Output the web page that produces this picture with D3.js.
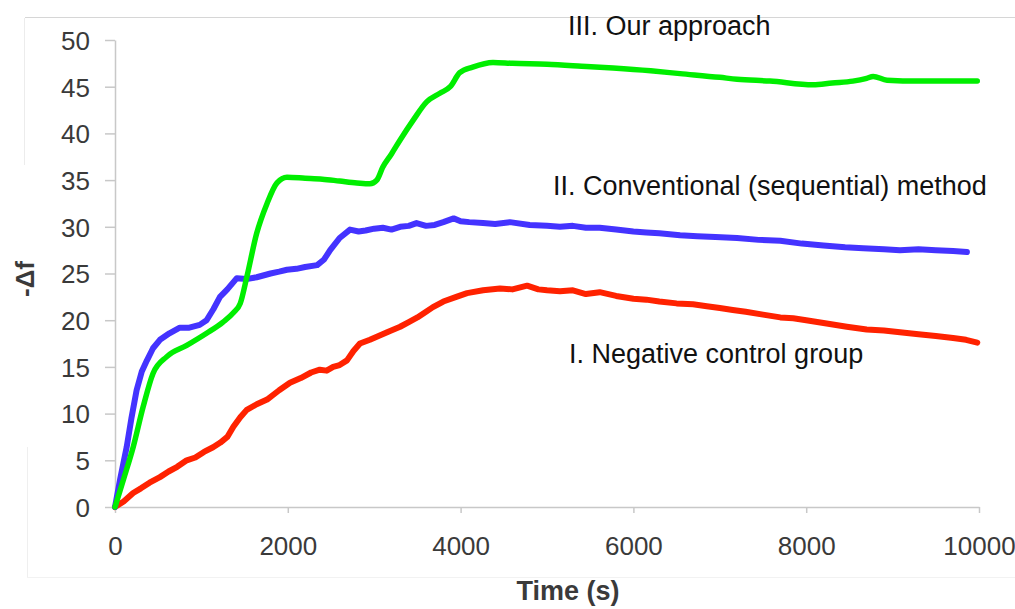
<!DOCTYPE html>
<html>
<head>
<meta charset="utf-8">
<script src="https://cdn.jsdelivr.net/npm/d3@7"></script>
<style>
  body { margin: 0; background: #fff; }
  svg { display: block; font-family: "Liberation Sans", Arial, sans-serif; }
</style>
</head>
<body>
<svg id="chart" width="1015" height="609"></svg>
<script>

  //============================================================
  // Data (time in s, -delta f)
  //------------------------------------------------------------

  var xTicks = [0, 2000, 4000, 6000, 8000, 10000]
    , yTicks = [0, 5, 10, 15, 20, 25, 30, 35, 40, 45, 50]
    ;

  var negativeControl = [
    [0,0],[100,0.6],[210,1.5],[300,2.0],[400,2.6],[520,3.2],[620,3.8],[720,4.3],[830,5.0],[930,5.3],
    [1030,5.9],[1135,6.4],[1220,6.9],[1300,7.5],[1370,8.6],[1450,9.6],[1525,10.4],[1640,11.0],[1760,11.5],
    [1900,12.5],[2025,13.3],[2150,13.8],[2270,14.4],[2370,14.7],[2450,14.6],[2525,15.0],[2600,15.2],
    [2685,15.7],[2760,16.7],[2835,17.5],[2950,17.9],[3050,18.3],[3170,18.8],[3300,19.3],[3400,19.8],
    [3500,20.3],[3600,20.9],[3680,21.4],[3800,22.0],[3950,22.5],[4075,22.9],[4260,23.2],[4456,23.4],
    [4600,23.3],[4770,23.7],[4900,23.3],[5000,23.2],[5150,23.1],[5300,23.2],[5450,22.8],[5610,23.0],
    [5800,22.6],[6000,22.3],[6150,22.2],[6300,22.0],[6500,21.8],[6690,21.7],[6850,21.5],[7000,21.3],
    [7150,21.1],[7300,20.9],[7500,20.6],[7700,20.3],[7850,20.2],[8000,20.0],[8200,19.7],[8470,19.3],
    [8700,19.0],[8900,18.9],[9085,18.7],[9300,18.5],[9500,18.3],[9700,18.1],[9850,17.9],[9980,17.6]
  ];

  var conventional = [
    [0,0],[60,3.0],[135,6.4],[190,9.5],[250,12.5],[310,14.5],[370,15.7],[440,17.0],[520,17.9],[630,18.6],
    [750,19.2],[860,19.2],[980,19.5],[1060,20.0],[1140,21.2],[1215,22.5],[1300,23.3],[1410,24.5],[1520,24.4],
    [1640,24.6],[1800,25.0],[1900,25.2],[1990,25.4],[2100,25.5],[2200,25.7],[2340,25.9],[2420,26.5],
    [2490,27.5],[2600,28.8],[2720,29.7],[2820,29.5],[2900,29.6],[3000,29.8],[3100,29.9],[3200,29.7],
    [3300,30.0],[3400,30.1],[3490,30.4],[3600,30.1],[3700,30.2],[3800,30.5],[3920,30.9],[4000,30.6],
    [4100,30.5],[4260,30.4],[4400,30.3],[4570,30.5],[4800,30.2],[5000,30.1],[5150,30.0],[5300,30.1],
    [5450,29.9],[5610,29.9],[5800,29.7],[6000,29.5],[6150,29.4],[6300,29.3],[6540,29.1],[6740,29.0],
    [6950,28.9],[7200,28.8],[7450,28.6],[7700,28.5],[7950,28.2],[8200,28.0],[8450,27.8],[8660,27.7],
    [8900,27.6],[9085,27.5],[9300,27.6],[9500,27.5],[9700,27.4],[9860,27.3]
  ];

  var ourApproach = [
    [0,0],[100,3.0],[210,6.4],[325,10.7],[440,14.3],[600,16.1],[830,17.3],[1060,18.6],[1250,19.8],
    [1370,20.8],[1450,21.8],[1525,24.6],[1640,29.3],[1760,32.5],[1875,34.7],[1990,35.3],[2200,35.2],
    [2400,35.1],[2600,34.9],[2800,34.7],[2950,34.6],[3030,35.0],[3100,36.4],[3200,37.8],[3300,39.3],
    [3450,41.4],[3610,43.4],[3760,44.3],[3880,45.0],[3990,46.5],[4140,47.1],[4375,47.6],[4600,47.5],
    [5000,47.4],[5400,47.2],[5765,47.0],[6200,46.7],[6540,46.4],[7000,46.0],[7200,45.8],[7580,45.6],
    [8080,45.2],[8300,45.4],[8540,45.6],[8700,45.9],[8775,46.1],[8935,45.7],[9300,45.6],[9700,45.6],
    [9980,45.6]
  ];

  var labels = [
    'I. Negative control group',
    'II. Conventional (sequential) method',
    'III. Our approach'
  ];

  //============================================================


  var svg = d3.select('#chart')
    , width = 1015
    , height = 609
    , x = d3.scaleLinear().domain([0, 10000]).range([115, 979])
    , y = d3.scaleLinear().domain([0, 50]).range([507, 40])
    , axisColor = '#c8c8c8'
    , textColor = '#3a3a3a'
    ;

  //------------------------------------------------------------
  // Faint outer frame of the original figure

  svg.append('line')
      .attr('x1', 25).attr('x2', width).attr('y1', 17.5).attr('y2', 17.5)
      .style('stroke', '#d6d6d6').style('stroke-width', 1);
  svg.append('rect')
      .attr('x', 926).attr('y', 0).attr('width', 54).attr('height', 17)
      .style('fill', '#fff');
  svg.append('line')
      .attr('x1', 24.5).attr('x2', 24.5).attr('y1', 18).attr('y2', 165)
      .style('stroke', '#ececec');
  svg.append('line')
      .attr('x1', 27.5).attr('x2', 27.5).attr('y1', 447).attr('y2', 577)
      .style('stroke', '#efefef');
  svg.append('line')
      .attr('x1', 27).attr('x2', width).attr('y1', 577.5).attr('y2', 577.5)
      .style('stroke', '#f2f2f2');

  //------------------------------------------------------------
  // Axes

  var xAxis = svg.append('g')
      .attr('transform', 'translate(0,' + y(0) + ')')
      .call(d3.axisBottom(x).tickValues(xTicks).tickSize(6).tickSizeOuter(0).tickPadding(24)
        .tickFormat(d3.format('d')));

  var yAxis = svg.append('g')
      .attr('transform', 'translate(' + x(0) + ',0)')
      .call(d3.axisLeft(y).tickValues(yTicks).tickSize(10).tickSizeOuter(0).tickPadding(15));

  [xAxis, yAxis].forEach(function(g) {
    g.selectAll('path.domain').style('stroke', axisColor).style('stroke-width', 1.5);
    g.selectAll('.tick line').style('stroke', axisColor).style('stroke-width', 1.5);
    g.selectAll('.tick text')
        .style('font-family', '"Liberation Sans", Arial, sans-serif')
        .style('font-size', '26px')
        .style('fill', textColor);
  });

  yAxis.selectAll('.tick text').attr('dy', '0.36em');

  svg.append('text')
      .attr('transform', 'translate(34,279) rotate(-90)')
      .attr('text-anchor', 'middle')
      .style('font-size', '26px')
      .style('font-weight', 'bold')
      .style('fill', '#3a3a3a')
      .text('-Δf');

  // the source crops this title at the bottom edge; keep it whole here
  svg.append('text')
      .attr('x', 568)
      .attr('y', 600)
      .attr('text-anchor', 'middle')
      .style('font-size', '27px')
      .style('font-weight', 'bold')
      .style('fill', '#3a3a3a')
      .text('Time (s)');

  //------------------------------------------------------------
  // Lines

  var line = d3.line()
      .x(function(d) { return x(d[0]) })
      .y(function(d) { return y(d[1]) });

  var series = [
    {values: negativeControl, color: '#ff2200', width: 6,   curve: d3.curveLinear},
    {values: conventional,    color: '#4433ff', width: 6,   curve: d3.curveLinear},
    {values: ourApproach,     color: '#00ee00', width: 5.5, curve: d3.curveMonotoneX}
  ];

  svg.selectAll('path.series')
      .data(series)
    .enter().append('path')
      .attr('class', 'series')
      .attr('d', function(d) { return line.curve(d.curve)(d.values) })
      .style('fill', 'none')
      .style('stroke', function(d) { return d.color })
      .style('stroke-width', function(d) { return d.width })
      .style('stroke-linejoin', 'round')
      .style('stroke-linecap', 'round');

  //------------------------------------------------------------
  // Annotations

  var labelPos = [[569, 363], [553, 195], [568, 35]];

  svg.selectAll('text.annot')
      .data(labels)
    .enter().append('text')
      .attr('class', 'annot')
      .attr('x', function(d, i) { return labelPos[i][0] })
      .attr('y', function(d, i) { return labelPos[i][1] })
      .style('font-size', '27px')
      .style('fill', '#111')
      .text(function(d) { return d });

</script>
</body>
</html>
